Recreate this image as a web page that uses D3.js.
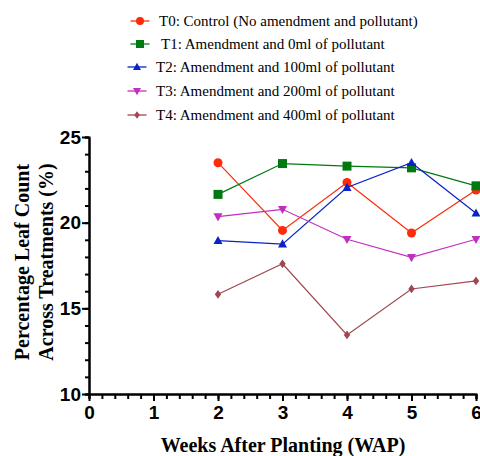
<!DOCTYPE html>
<html>
<head>
<meta charset="utf-8">
<script src="https://cdn.jsdelivr.net/npm/d3@7"></script>
<style>
  body { margin: 0; background: #fff; }
  svg { font-family: "Liberation Serif", "Times New Roman", serif; }
</style>
</head>
<body>
<svg id="chart"></svg>
<script>
// weeks after planting
const weeks = [2, 3, 4, 5, 6]
const seriesNames = [
  'T0: Control (No amendment and pollutant)',
  'T1: Amendment and 0ml of pollutant',
  'T2: Amendment and 100ml of pollutant',
  'T3: Amendment and 200ml of pollutant',
  'T4: Amendment and 400ml of pollutant'
]
const t0 = [23.5, 19.55, 22.35, 19.4, 21.9]
const t1 = [21.65, 23.45, 23.3, 23.2, 22.15]
const t2 = [18.95, 18.75, 22.05, 23.5, 20.55]
const t3 = [20.35, 20.78, 19.03, 17.97, 19.03]
const t4 = [15.82, 17.6, 13.45, 16.13, 16.6]
const xTicks = [0, 1, 2, 3, 4, 5, 6]
const yTicks = [10, 15, 20, 25]

const colors = ['#ff2a0a', '#007a10', '#0a22c8', '#c030c0', '#a0474f']
const symbols = ['circle', 'square', 'up', 'down', 'diamond']
const allSeries = [t0, t1, t2, t3, t4]

const width = 480, height = 456
const margin = {left: 89, top: 137, right: 4, bottom: 62}

const svg = d3.select('#chart')
    .attr('width', width)
    .attr('height', height)

const x = d3.scaleLinear().domain([0, 6]).range([margin.left, 476])
const y = d3.scaleLinear().domain([10, 25]).range([height - margin.bottom, margin.top])

// marker drawing helper, w = rough width in px
function marker(g, kind, color, w) {
    const h = w / 2
    let d
    if (kind === 'circle') {
        g.append('circle').attr('r', h).attr('fill', color)
        return
    } else if (kind === 'square') {
        d = `M${-h},${-h}H${h}V${h}H${-h}Z`
    } else if (kind === 'up') {
        d = `M0,${-h * 1.05}L${h},${h * 0.75}L${-h},${h * 0.75}Z`
    } else if (kind === 'down') {
        d = `M0,${h * 1.05}L${h},${-h * 0.75}L${-h},${-h * 0.75}Z`
    } else {
        d = `M0,${-h * 1.1}L${h * 0.8},0L0,${h * 1.1}L${-h * 0.8},0Z`
    }
    g.append('path').attr('d', d).attr('fill', color)
}

// lines + points
const line = d3.line().x((d, i) => x(weeks[i])).y(d => y(d))
allSeries.forEach((vals, si) => {
    svg.append('path')
        .datum(vals)
        .attr('d', line)
        .attr('fill', 'none')
        .attr('stroke', colors[si])
        .attr('stroke-width', 1.2)
    vals.forEach((v, i) => {
        const g = svg.append('g').attr('transform', `translate(${x(weeks[i])},${y(v)})`)
        marker(g, symbols[si], colors[si], si === 4 ? 8 : 9)
    })
})

// axes
const axisStyle = g => {
    g.select('.domain').attr('stroke', '#000').attr('stroke-width', 2)
    g.selectAll('line').attr('stroke', '#000').attr('stroke-width', 2)
    g.selectAll('text').attr('font-weight', 'bold').attr('font-size', 19).attr('fill', '#000')
}

const yMinor = d3.range(10, 25.01, 1)
svg.append('g')
    .attr('transform', `translate(${margin.left},0)`)
    .call(d3.axisLeft(y).tickValues(yMinor).tickSize(4).tickFormat(''))
    .call(axisStyle)
svg.append('g')
    .attr('transform', `translate(${margin.left},0)`)
    .call(d3.axisLeft(y).tickValues(yTicks).tickSize(7).tickSizeOuter(0).tickPadding(1).tickFormat(d3.format('d')))
    .call(axisStyle)

const xMinor = d3.range(0, 6.001, 0.2)
svg.append('g')
    .attr('transform', `translate(0,${y(10)})`)
    .call(d3.axisBottom(x).tickValues(xMinor).tickSize(5).tickFormat(''))
    .call(axisStyle)
svg.append('g')
    .attr('transform', `translate(0,${y(10)})`)
    .call(d3.axisBottom(x).tickValues(xTicks).tickSize(7).tickSizeOuter(0).tickPadding(5).tickFormat(d3.format('d')))
    .call(axisStyle)

// axis titles
svg.append('text')
    .attr('x', 283).attr('y', 452)
    .attr('text-anchor', 'middle')
    .attr('font-weight', 'bold').attr('font-size', 20)
    .text('Weeks After Planting (WAP)')

const yTitle = svg.append('text')
    .attr('transform', 'translate(0,262) rotate(-90)')
    .attr('text-anchor', 'middle')
    .attr('font-weight', 'bold').attr('font-size', 20)
yTitle.append('tspan').attr('x', 0).attr('y', 29).text('Percentage Leaf Count')
yTitle.append('tspan').attr('x', 0).attr('y', 53).text('Across Treatments (%)')

// legend
const legY = [21, 44, 67, 91, 115]
const legX = [140, 140, 137, 137, 137]
const legTextX = [159, 161, 156, 156, 156]
seriesNames.forEach((name, i) => {
    const g = svg.append('g').attr('transform', `translate(${legX[i]},${legY[i]})`)
    g.append('line').attr('x1', -9.5).attr('x2', 9.5)
        .attr('stroke', colors[i]).attr('stroke-width', 1.3)
    marker(g, symbols[i], colors[i], i === 4 ? 7 : 8)
    svg.append('text')
        .attr('x', legTextX[i]).attr('y', legY[i] + 5)
        .attr('font-size', 15)
        .text(name)
})
</script>
</body>
</html>
